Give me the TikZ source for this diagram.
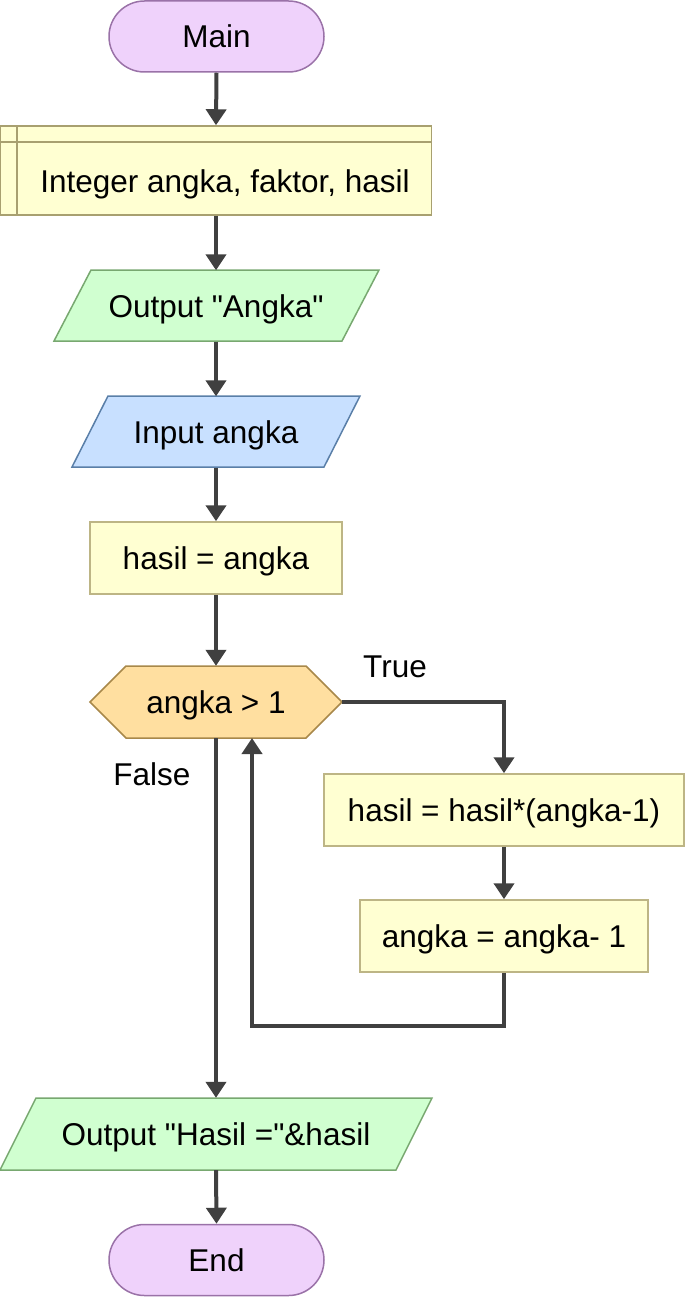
\documentclass[tikz,border=0pt]{standalone}
\usepackage{fontspec}
\setmainfont{Liberation Sans}[Ligatures=TeXOff]
\usetikzlibrary{shapes.misc,arrows.meta,backgrounds,calc}
\definecolor{termfill}{HTML}{EFD2FB}
\definecolor{termline}{HTML}{9A72A8}
\definecolor{declfill}{HTML}{FFFFD2}
\definecolor{declline}{HTML}{A8A070}
\definecolor{outfill}{HTML}{D0FFD0}
\definecolor{outline}{HTML}{78A870}
\definecolor{infill}{HTML}{C8E0FF}
\definecolor{inline}{HTML}{5A7FA8}
\definecolor{procfill}{HTML}{FFFFD2}
\definecolor{procline}{HTML}{BDB585}
\definecolor{decfill}{HTML}{FFDFA0}
\definecolor{decline}{HTML}{A8884A}
\definecolor{arrowc}{HTML}{404040}
\begin{document}
\begin{tikzpicture}[x=1pt,y=-1pt,
  every node/.style={font=\fontsize{31.5}{37}\selectfont, inner sep=0pt, text=black, text height=22.5pt, text depth=0pt},
  terminal/.style={rounded rectangle, draw=termline, fill=termfill, line width=1.5pt, minimum width=215pt, minimum height=71pt},
  procbox/.style={rectangle, draw=procline, fill=procfill, line width=1.5pt, minimum height=72pt},
  slot/.style={rectangle, draw=none, minimum height=71pt},
  shapeline/.style={line width=1.5pt},
  flow/.style={draw=arrowc, line width=4pt, -{Triangle[width=20pt,length=16pt]}},
  lbl/.style={}]
\useasboundingbox (0,0) rectangle (685,1297);

% Main
\node[terminal] (main) at (216.5,36.5) {Main};

% Declare
\node[rectangle, draw=declline, fill=declfill, line width=1.5pt, minimum width=431pt, minimum height=89pt] (decl) at (216,170.5) {};
\draw[declline, line width=1.5pt] (decl.north west) ++(0,17) -- ++(431,0);
\draw[declline, line width=1.5pt] (decl.north west) ++(17,0) -- ++(0,89);
\node (decltext) at (225,181) {Integer angka, faktor, hasil};

% Output "Angka"
\node[slot, minimum width=288pt] (out1) at (216,306) {Output "Angka"};
\begin{scope}[on background layer]
\filldraw[shapeline, draw=outline, fill=outfill] (54,341) -- (342,341) -- (379,270) -- (91,270) -- cycle;
\end{scope}

% Input angka
\node[slot, minimum width=252pt] (inp) at (216,432) {Input angka};
\begin{scope}[on background layer]
\filldraw[shapeline, draw=inline, fill=infill] (72,467) -- (324,467) -- (360,396) -- (108,396) -- cycle;
\end{scope}

% hasil = angka
\node[procbox, minimum width=252pt] (p1) at (216,558) {hasil = angka};

% Decision
\node[slot, minimum width=252pt, minimum height=72pt] (dec) at (216,702) {angka > 1};
\begin{scope}[on background layer]
\filldraw[shapeline, draw=decline, fill=decfill] (90,702) -- (126,666) -- (306,666) -- (342,702) -- (306,738) -- (126,738) -- cycle;
\end{scope}

% loop body
\node[procbox, minimum width=360pt] (p2) at (504,810) {hasil = hasil*(angka-1)};
\node[procbox, minimum width=288pt] (p3) at (504,936) {angka = angka- 1};

% Output Hasil
\node[slot, minimum width=396pt, minimum height=72pt] (out2) at (216,1134) {Output "Hasil ="\&hasil};
\begin{scope}[on background layer]
\filldraw[shapeline, draw=outline, fill=outfill] (0,1170) -- (396,1170) -- (432,1098) -- (36,1098) -- cycle;
\end{scope}

% End
\node[terminal] (end) at (216.5,1260) {End};

% labels
\node[lbl] (truelbl) at (395,666) {True};
\node[lbl] (falselbl) at (152,774) {False};

% coordinates
\coordinate (tcorner) at (504,702);
\coordinate (lb1) at (504,1026);
\coordinate (lb2) at (252,1026);
\coordinate (loopin) at (252,738);

% connectors
\draw[flow] (main.south) -- (decl.north);
\draw[flow] (decl.south) -- (out1.north);
\draw[flow] (out1.south) -- (inp.north);
\draw[flow] (inp.south) -- (p1.north);
\draw[flow] (p1.south) -- (dec.north);
\draw[flow] (dec.east) -- (tcorner) -- (p2.north);
\draw[flow] (p2.south) -- (p3.north);
\draw[flow] (p3.south) -- (lb1) -- (lb2) -- (loopin);
\draw[flow] (dec.south) -- (out2.north);
\draw[flow] (out2.south) -- (end.north);
\end{tikzpicture}
\end{document}
